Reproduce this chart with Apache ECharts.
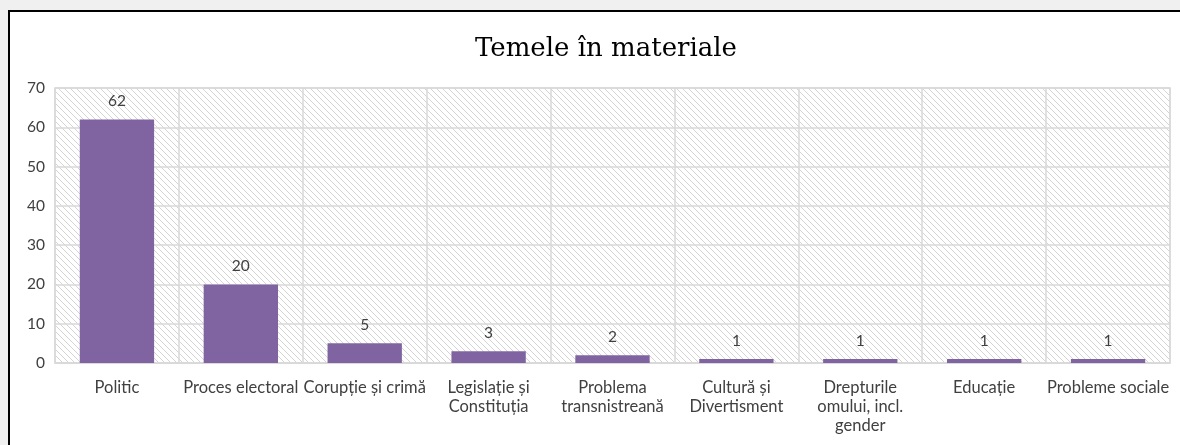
<!DOCTYPE html>
<html>
<head>
<meta charset="utf-8">
<script src="https://cdn.jsdelivr.net/npm/echarts@6/dist/echarts.min.js"></script>
<style>
  html, body { margin: 0; padding: 0; background: #f0f0f0; }
  .frame {
    position: absolute; left: 8px; top: 10px; width: 1180px; height: 445px;
    border-left: 2px solid #000; border-top: 2px solid #000; background: #fff;
  }
  .chart { position: absolute; left: 0; top: 0; width: 1180px; height: 445px; }
</style>
</head>
<body>
<div class='frame'></div>
<div class='chart' id='chart'></div>
<script>
const categories = [
  'Politic',
  'Proces electoral',
  'Corupție și crimă',
  'Legislație și\nConstituția',
  'Problema\ntransnistreană',
  'Cultură și\nDivertisment',
  'Drepturile\nomului, incl.\ngender',
  'Educație',
  'Probleme sociale'
]
const values = [62, 20, 5, 3, 2, 1, 1, 1, 1]
const yTicks = [0, 10, 20, 30, 40, 50, 60, 70]

// hasura diagonala de fundal
const makeHatch = () => {
  const c = document.createElement('canvas')
  c.width = 6
  c.height = 6
  const ctx = c.getContext('2d')
  ctx.fillStyle = '#ffffff'
  ctx.fillRect(0, 0, 6, 6)
  ctx.strokeStyle = '#d4d4d4'
  ctx.lineWidth = 1
  ctx.beginPath()
  for (let k = -6; k <= 6; k += 6) {
    ctx.moveTo(k, 0)
    ctx.lineTo(k + 6, 6)
  }
  ctx.stroke()
  return c
}

const myChart = echarts.init(document.getElementById('chart'))
const option = {
  animation: false,
  title: {
    text: 'Temele în materiale',
    left: 470,
    top: 31,
    textStyle: { fontFamily: 'DejaVu Serif', fontSize: 26, fontWeight: 'normal', color: '#000' }
  },
  grid: {
    left: 55,
    right: 10,
    top: 88,
    bottom: 82,
    show: true,
    backgroundColor: { image: makeHatch(), repeat: 'repeat' },
    borderColor: '#d9d9d9',
    borderWidth: 1.5
  },
  xAxis: {
    type: 'category',
    data: categories,
    axisTick: { show: false },
    axisLine: { lineStyle: { color: '#d9d9d9', width: 1.5 } },
    splitLine: { show: true, lineStyle: { color: '#d9d9d9', width: 1.5 } },
    axisLabel: {
      interval: 0,
      margin: 15,
      color: '#404040',
      fontFamily: 'Lato',
      fontSize: 16.5,
      lineHeight: 19
    }
  },
  yAxis: {
    type: 'value',
    min: yTicks[0],
    max: yTicks[yTicks.length - 1],
    interval: 10,
    axisLine: { show: false },
    axisTick: { show: false },
    splitLine: { lineStyle: { color: '#d9d9d9', width: 1.5 } },
    axisLabel: { margin: 10, color: '#404040', fontFamily: 'Lato', fontSize: 15.5 }
  },
  series: [{
    type: 'bar',
    data: values,
    barCategoryGap: '40%',
    itemStyle: { color: '#8064a2' },
    label: {
      show: true,
      position: 'top',
      distance: 10,
      color: '#404040',
      fontFamily: 'Lato',
      fontSize: 15.5
    }
  }]
}
myChart.setOption(option)
window.addEventListener('resize', () => {
  myChart.resize()
})
</script>
</body>
</html>
